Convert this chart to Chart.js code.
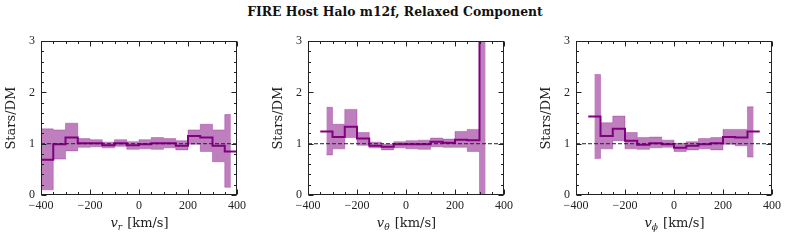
<!DOCTYPE html>
<html>
<head>
<meta charset="utf-8">
<script src="https://cdn.jsdelivr.net/npm/chart.js@4.4.1/dist/chart.umd.min.js"></script>
<style>
  body { margin: 0; background: #fff; width: 789px; height: 243px; position: relative; overflow: hidden; }
  #title { position: absolute; left: 0; top: 4px; width: 790px; text-align: center;
           font: bold 12.4px "DejaVu Serif"; line-height: 16px; color: #111; }
  .panel { position: absolute; top: 28px; width: 250px; height: 215px; }
</style>
</head>
<body>
<div id="title">FIRE Host Halo m12f, Relaxed Component</div>
<div class="panel" style="left:0px"><canvas id="c1" width="250" height="215"></canvas></div>
<div class="panel" style="left:267px"><canvas id="c2" width="250" height="215"></canvas></div>
<div class="panel" style="left:535px"><canvas id="c3" width="250" height="215"></canvas></div>
<script>
// v_r panel: bins of 50 km/s
var edgesR = [-400, -350, -300, -250, -200, -150, -100, -50, 0, 50, 100, 150, 200, 250, 300, 350, 400];
var bandEdgesR = [-400, -350, -300, -250, -200, -150, -100, -50, 0, 50, 100, 150, 200, 250, 300, 350, 375];
var ratioR = [0.69, 0.99, 1.12, 1.01, 1.01, 0.97, 1.01, 0.97, 0.99, 1.01, 1.01, 0.96, 1.15, 1.12, 0.96, 0.85];
var upperR = [1.29, 1.27, 1.40, 1.10, 1.08, 1.03, 1.08, 1.04, 1.08, 1.12, 1.10, 1.06, 1.27, 1.38, 1.27, 1.57];
var lowerR = [0.10, 0.70, 0.86, 0.93, 0.94, 0.92, 0.95, 0.89, 0.90, 0.89, 0.92, 0.88, 0.99, 0.85, 0.65, 0.15];

// v_theta panel
var edgesT = [-350, -300, -250, -200, -150, -100, -50, 0, 50, 100, 150, 200, 250, 300, 350];
var bandEdgesT = [-325, -300, -250, -200, -150, -100, -50, 0, 50, 100, 150, 200, 250, 300, 325];
var ratioT = [1.24, 1.13, 1.33, 1.10, 0.96, 0.94, 0.99, 0.99, 0.99, 1.04, 1.02, 1.08, 1.07, 4.5];
var upperT = [1.71, 1.38, 1.67, 1.22, 1.03, 0.99, 1.04, 1.06, 1.07, 1.11, 1.09, 1.24, 1.28, 9.0];
var lowerT = [0.78, 0.90, 1.12, 0.97, 0.92, 0.88, 0.92, 0.90, 0.89, 0.94, 0.93, 0.93, 0.85, -1.0];

// v_phi panel
var edgesP = [-350, -300, -250, -200, -150, -100, -50, 0, 50, 100, 150, 200, 250, 300, 350];
var bandEdgesP = [-325, -300, -250, -200, -150, -100, -50, 0, 50, 100, 150, 200, 250, 300, 325];
var ratioP = [1.53, 1.15, 1.29, 1.06, 0.98, 1.01, 0.99, 0.92, 0.96, 0.99, 1.01, 1.13, 1.12, 1.24];
var upperP = [2.35, 1.41, 1.54, 1.22, 1.12, 1.13, 1.07, 1.01, 1.04, 1.10, 1.12, 1.28, 1.28, 1.72];
var lowerP = [0.71, 0.90, 1.06, 0.90, 0.89, 0.92, 0.93, 0.85, 0.88, 0.90, 0.88, 0.99, 0.96, 0.74];

var xTicks = [-400, -200, 0, 200, 400];
var yTicks = [0, 1, 2, 3];

var purple = "#800080";
var bandFill = "rgba(128, 0, 128, 0.5)";

// turn bin edges + values into points for a stepped line
function steps(edges, vals) {
    var pts = [];
    for (let i = 0; i < vals.length; i++) {
        pts.push({x: edges[i], y: vals[i]});
    }
    pts.push({x: edges[vals.length], y: vals[vals.length - 1]});
    return pts;
}

// box + inward ticks on all four sides, like matplotlib
var frame = {
    id: "frame",
    afterDraw: function(chart) {
        var ctx = chart.ctx, a = chart.chartArea;
        var xs = chart.scales.x, ys = chart.scales.y;
        ctx.save();
        ctx.strokeStyle = "#222";
        ctx.lineWidth = 1;
        var L = Math.round(a.left) + 0.5, R = Math.round(a.right) - 0.5;
        var T = Math.round(a.top) + 0.5, B = Math.round(a.bottom) - 0.5;
        ctx.strokeRect(L, T, R - L, B - T);
        ctx.beginPath();
        for (let v = -400; v <= 400; v += 50) {
            var len = xTicks.indexOf(v) >= 0 ? 5 : 2.5;
            var px = Math.round(xs.getPixelForValue(v)) + 0.5;
            ctx.moveTo(px, B); ctx.lineTo(px, B - len);
            ctx.moveTo(px, T); ctx.lineTo(px, T + len);
        }
        for (let k = 0; k <= 15; k++) {
            var val = k / 5;
            var len2 = k % 5 == 0 ? 5 : 2.5;
            var py = Math.round(ys.getPixelForValue(val)) + 0.5;
            ctx.moveTo(L, py); ctx.lineTo(L + len2, py);
            ctx.moveTo(R, py); ctx.lineTo(R - len2, py);
        }
        ctx.stroke();

        // x axis label: italic v with subscript
        var sub = chart.options.plugins.frame.sub;
        var f1 = 'italic 13px "DejaVu Serif"', f2 = 'italic 9px "DejaVu Serif"', f3 = '13px "DejaVu Serif"';
        var rest = " [km/s]";
        ctx.font = f1; var w1 = ctx.measureText("v").width;
        ctx.font = f2; var w2 = ctx.measureText(sub).width;
        ctx.font = f3; var w3 = ctx.measureText(rest).width;
        var x0 = (a.left + a.right) / 2 - (w1 + w2 + w3) / 2;
        var base = 199;
        ctx.fillStyle = "#222";
        ctx.textBaseline = "alphabetic";
        ctx.textAlign = "left";
        ctx.font = f1; ctx.fillText("v", x0, base);
        ctx.font = f2; ctx.fillText(sub, x0 + w1, base + 3);
        ctx.font = f3; ctx.fillText(rest, x0 + w1 + w2 + 1, base);
        ctx.restore();
    }
};

function makePanel(id, edges, bandEdges, ratio, upper, lower, sub) {
    var ctx = document.getElementById(id);
    var data = {
        datasets: [
            {
                data: [{x: -400, y: 1}, {x: 400, y: 1}],
                borderColor: "#222",
                borderWidth: 1,
                borderDash: [4, 2],
                pointRadius: 0,
                fill: false,
                order: 0
            },
            {
                data: steps(edges, ratio),
                stepped: true,
                borderColor: purple,
                borderWidth: 2,
                pointRadius: 0,
                fill: false,
                order: 1
            },
            {
                data: steps(bandEdges, upper),
                stepped: true,
                borderColor: "rgba(128, 0, 128, 0.3)",
                borderWidth: 1,
                backgroundColor: bandFill,
                pointRadius: 0,
                fill: "+1",
                order: 2
            },
            {
                data: steps(bandEdges, lower),
                stepped: true,
                borderColor: "rgba(128, 0, 128, 0.3)",
                borderWidth: 1,
                pointRadius: 0,
                fill: false,
                order: 3
            }
        ]
    };
    var tickFont = {family: "Liberation Serif", size: 12};
    var options = {
        responsive: false,
        animation: false,
        devicePixelRatio: 1,
        clip: 0,
        layout: {autoPadding: false, padding: {left: 0, top: 11, right: 13, bottom: 0}},
        plugins: {
            legend: {display: false},
            tooltip: {enabled: false},
            frame: {sub: sub}
        },
        scales: {
            x: {
                type: "linear",
                min: -400, max: 400,
                grid: {display: false, drawTicks: false},
                border: {display: false},
                ticks: {
                    stepSize: 200,
                    padding: 4,
                    color: "#222",
                    font: tickFont,
                    maxRotation: 0,
                    callback: function(v) { return String(v).replace("-", "\u2212"); }
                },
                afterFit: function(s) { s.height = 48; }
            },
            y: {
                min: 0, max: 3,
                grid: {display: false, drawTicks: false},
                border: {display: false},
                ticks: {stepSize: 1, padding: 6, color: "#222", font: tickFont},
                title: {display: true, text: "Stars/DM", color: "#222",
                        font: {family: "DejaVu Serif", size: 13}, padding: {top: 4, bottom: 0}},
                afterFit: function(s) { s.width = 41; }
            }
        }
    };
    return new Chart(ctx, {type: "line", data: data, options: options, plugins: [frame]});
}

makePanel("c1", edgesR, bandEdgesR, ratioR, upperR, lowerR, "r");
makePanel("c2", edgesT, bandEdgesT, ratioT, upperT, lowerT, "\u03b8");
makePanel("c3", edgesP, bandEdgesP, ratioP, upperP, lowerP, "\u03d5");
</script>
</body>
</html>
